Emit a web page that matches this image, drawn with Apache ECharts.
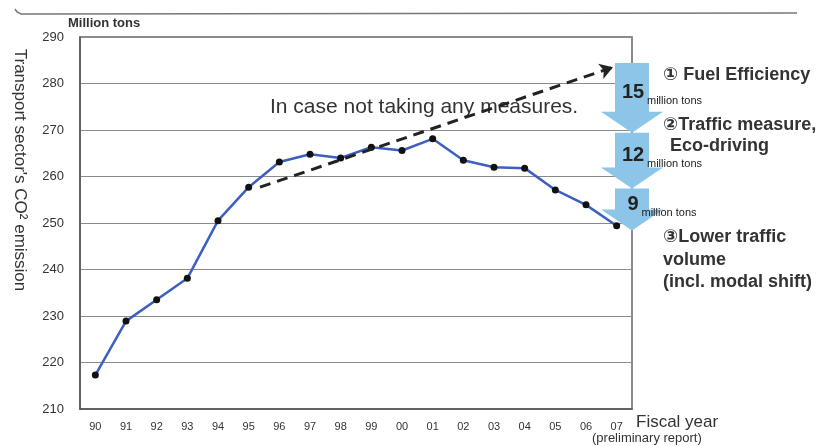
<!DOCTYPE html>
<html>
<head>
<meta charset="utf-8">
<script src="https://cdn.jsdelivr.net/npm/echarts@6/dist/echarts.min.js"></script>
<style>
html,body{margin:0;padding:0;background:#fff;}
#chart{width:828px;height:446px;}
</style>
</head>
<body>
<div id="chart"></div>
<script>
// ---- data ----
const fiscalYears = ['90','91','92','93','94','95','96','97','98','99','00','01','02','03','04','05','06','07'];
const co2Emission = [217.3, 228.9, 233.5, 238.1, 250.5, 257.7, 263.1, 264.8, 264.0, 266.3, 265.6, 268.1, 263.5, 262.0, 261.8, 257.1, 253.9, 249.4];
// "In case not taking any measures" trend (x in category-slot units, y in million tons)
const noMeasuresStart = [5.87, 257.7];
const noMeasuresEnd = [17.38, 283.5];
// reduction targets (million tons)
const reductionTop = 284.4;
const reductionValues = [15, 12, 9];
const yTicks = {min: 210, max: 290, interval: 10};

const FONT = '"Liberation Sans", Arial, "DejaVu Sans", sans-serif';

// build arrow segments from cumulative reductions
const arrowData = [];
let cur = reductionTop;
reductionValues.forEach(function (v) {
  arrowData.push([fiscalYears.length, cur, cur - v, v]);
  cur -= v;
});

const chart = echarts.init(document.getElementById('chart'));

const option = {
  animation: false,
  backgroundColor: '#fff',
  grid: {left: 80, right: 196, top: 37, bottom: 37, show: true, borderColor: '#666', borderWidth: 1.5},
  xAxis: [
    {
      type: 'category', data: fiscalYears, boundaryGap: true,
      axisLine: {lineStyle: {color: '#555', width: 1.5}},
      axisTick: {inside: true, length: 4, lineStyle: {color: '#555'}},
      axisLabel: {fontSize: 11, color: '#333', margin: 12, fontFamily: FONT}
    },
    {type: 'value', min: 0, max: fiscalYears.length, show: false}
  ],
  yAxis: {
    type: 'value', min: yTicks.min, max: yTicks.max, interval: yTicks.interval,
    axisLine: {show: true, lineStyle: {color: '#555', width: 1.5}},
    axisTick: {show: false},
    splitLine: {lineStyle: {color: '#8a8a8a', width: 1}},
    axisLabel: {fontSize: 13, color: '#333', margin: 16, fontFamily: FONT}
  },
  series: [
    {
      type: 'line', data: co2Emission, xAxisIndex: 0, z: 3,
      lineStyle: {color: '#3d5fbf', width: 2.5},
      symbol: 'circle', symbolSize: 7,
      itemStyle: {color: '#111'}
    },
    {
      type: 'line', xAxisIndex: 1, data: [], z: 4,
      markLine: {
        silent: true, symbol: ['none', 'arrow'], symbolSize: [12, 13],
        label: {show: false},
        lineStyle: {type: [11, 7], color: '#222', width: 3},
        data: [[{coord: noMeasuresStart}, {coord: noMeasuresEnd}]]
      }
    },
    {
      type: 'custom', xAxisIndex: 1, data: arrowData, z: 5, clip: false,
      renderItem: function (params, api) {
        const top = api.coord([api.value(0), api.value(1)]);
        const bot = api.coord([api.value(0), api.value(2)]);
        const cx = top[0];
        const sw = 17, hw = 31, hh = 21;
        const y0 = top[1], y1 = bot[1], yh = y1 - hh;
        const val = String(api.value(3));
        const valW = val.length * 11;
        const ty = (y0 + yh) / 2 + 5;
        return {
          type: 'group',
          children: [
            {
              type: 'polygon',
              shape: {points: [[cx - sw, y0], [cx + sw, y0], [cx + sw, yh], [cx + hw, yh], [cx, y1], [cx - hw, yh], [cx - sw, yh]]},
              style: {fill: '#8cc5e7'}
            },
            {
              type: 'text', x: cx + 1, y: ty,
              style: {text: val, fontSize: 20, fontWeight: 'bold', fill: '#222', align: 'center', verticalAlign: 'middle', fontFamily: FONT}
            },
            {
              type: 'text', x: cx + 1 + valW / 2 + 3, y: ty + 9,
              style: {text: 'million tons', fontSize: 11, fill: '#222', align: 'left', verticalAlign: 'middle', fontFamily: FONT}
            }
          ]
        };
      }
    }
  ],
  graphic: [
    {type: 'polyline', shape: {points: [[15, 9], [17, 12], [21, 14], [30, 14], [797, 13]]}, style: {stroke: '#777', lineWidth: 1.5, fill: null}},
    {type: 'text', x: 68, y: 23, style: {text: 'Million tons', fontSize: 13, fontWeight: 'bold', fill: '#333', verticalAlign: 'middle', fontFamily: FONT}},
    {type: 'text', x: 20, y: 170, rotation: -Math.PI / 2, style: {text: 'Transport sector\'s CO\u00B2 emission', fontSize: 17, fill: '#333', align: 'center', verticalAlign: 'middle', fontFamily: FONT}},
    {type: 'text', x: 270, y: 107, style: {text: 'In case not taking any measures.', fontSize: 21, fill: '#333', verticalAlign: 'middle', fontFamily: FONT}},
    {type: 'text', x: 663, y: 75, style: {text: '\u2460 Fuel Efficiency', fontSize: 18, fontWeight: 'bold', fill: '#333', verticalAlign: 'middle', fontFamily: FONT}},
    {type: 'text', x: 663, y: 125, style: {text: '\u2461Traffic measure,', fontSize: 18, fontWeight: 'bold', fill: '#333', verticalAlign: 'middle', fontFamily: FONT}},
    {type: 'text', x: 670, y: 146, style: {text: 'Eco-driving', fontSize: 18, fontWeight: 'bold', fill: '#333', verticalAlign: 'middle', fontFamily: FONT}},
    {type: 'text', x: 663, y: 237, style: {text: '\u2462Lower traffic', fontSize: 18, fontWeight: 'bold', fill: '#333', verticalAlign: 'middle', fontFamily: FONT}},
    {type: 'text', x: 663, y: 260, style: {text: 'volume', fontSize: 18, fontWeight: 'bold', fill: '#333', verticalAlign: 'middle', fontFamily: FONT}},
    {type: 'text', x: 663, y: 282, style: {text: '(incl. modal shift)', fontSize: 18, fontWeight: 'bold', fill: '#333', verticalAlign: 'middle', fontFamily: FONT}},
    {type: 'text', x: 636, y: 422, style: {text: 'Fiscal year', fontSize: 17, fill: '#333', verticalAlign: 'middle', fontFamily: FONT}},
    {type: 'text', x: 592, y: 438, style: {text: '(preliminary report)', fontSize: 13, fill: '#333', verticalAlign: 'middle', fontFamily: FONT}}
  ]
};
chart.setOption(option);
</script>
</body>
</html>
